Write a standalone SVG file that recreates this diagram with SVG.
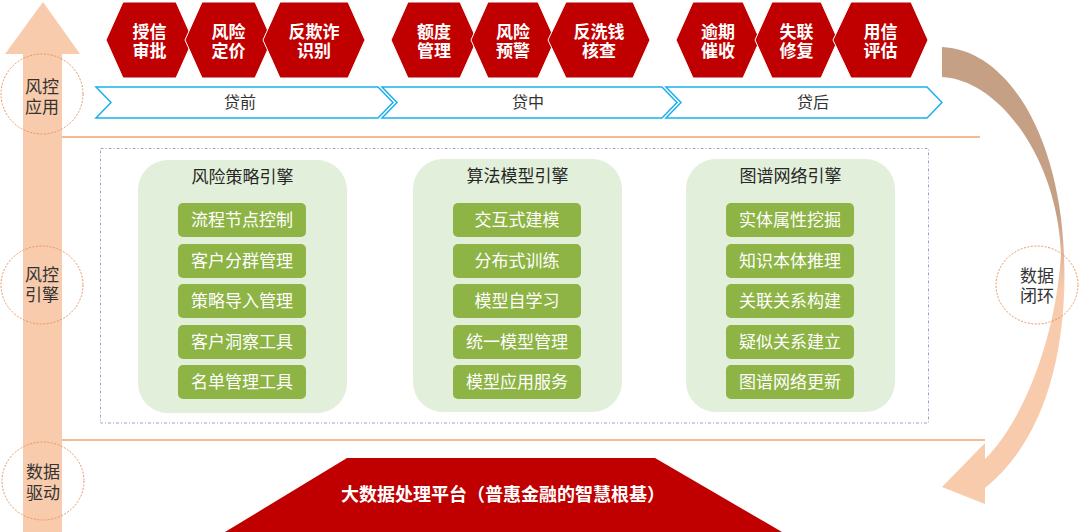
<svg xmlns="http://www.w3.org/2000/svg" width="1080" height="532" viewBox="0 0 1080 532">
<defs>
<linearGradient id="loopGrad" gradientUnits="userSpaceOnUse" x1="0" y1="215" x2="0" y2="290">
<stop offset="0" stop-color="#C6A085"/>
<stop offset="1" stop-color="#F8CBAD"/>
</linearGradient>
<style>
.cn{font-family:"Liberation Sans","Noto Sans CJK SC",sans-serif;}
.hex{fill:#C00000;stroke:#FFFFFF;stroke-width:1;}
.hext{fill:#FFFFFF;font-size:17px;font-weight:bold;text-anchor:middle;}
.chev{fill:#FFFFFF;stroke:#1AB0EE;stroke-width:1.5;}
.chevt{fill:#333333;font-size:16px;text-anchor:middle;}
.ring{fill:none;stroke:#E8965E;stroke-width:1;stroke-dasharray:2 1.5;}
.sidet{fill:#333333;font-size:17px;text-anchor:middle;}
.panel{fill:#E2EFDA;}
.ptitle{fill:#262626;font-size:17px;text-anchor:middle;}
.item{fill:#8DB444;}
.itemt{fill:#FFFFFF;font-size:17px;text-anchor:middle;}
.sep{stroke:#F4A46E;stroke-width:1.6;fill:none;}
</style>
</defs>
<rect width="1080" height="532" fill="#FFFFFF"/>

<g id="connectors">
<polygon id="left-arrow" points="43,2 80,54 62,54 62,532 23,532 23,54 5,54" fill="#F8CBAD"/>
<path id="loop-arrow" d="M 942,47 C 1010,50 1060,140 1064,255 C 1068,350 1045,440 985,488 L 985,504 L 942,487 L 985,443 L 985,459 C 1020,425 1055,345 1061,255 C 1058,160 1000,80 942,77 Z" fill="url(#loopGrad)"/>
</g>

<g id="separators">
<line class="sep" x1="62" y1="137" x2="980" y2="137"/>
<line class="sep" x1="62" y1="440" x2="985" y2="440"/>
<rect x="100.5" y="148.5" width="828" height="274.5" fill="none" stroke="#9AA6CC" stroke-width="1" stroke-dasharray="3 2 1 2"/>
</g>

<g id="side-labels" class="cn">
<g id="label-app">
<ellipse class="ring" cx="42" cy="94" rx="41" ry="40"/>
<text class="sidet" x="42" y="93">风控</text>
<text class="sidet" x="42" y="113">应用</text>
</g>
<g id="label-engine">
<ellipse class="ring" cx="42" cy="285" rx="41" ry="39"/>
<text class="sidet" x="42" y="281">风控</text>
<text class="sidet" x="42" y="301">引擎</text>
</g>
<g id="label-data">
<ellipse class="ring" cx="43" cy="481" rx="41" ry="39"/>
<text class="sidet" x="43" y="478">数据</text>
<text class="sidet" x="43" y="499">驱动</text>
</g>
<g id="label-loop">
<ellipse class="ring" cx="1037" cy="285" rx="41" ry="39"/>
<text class="sidet" x="1037" y="282">数据</text>
<text class="sidet" x="1037" y="302">闭环</text>
</g>
</g>

<g id="hexagons" class="cn">
<g id="hex1"><polygon class="hex" points="106,40 123,2 176,2 193,40 176,78 123,78"/><text class="hext" x="149.5" y="38">授信</text><text class="hext" x="149.5" y="57">审批</text></g>
<g id="hex2"><polygon class="hex" points="185,40 202,2 255,2 272,40 255,78 202,78"/><text class="hext" x="228.5" y="38">风险</text><text class="hext" x="228.5" y="57">定价</text></g>
<g id="hex3"><polygon class="hex" points="263,40 280,2 348,2 365,40 348,78 280,78"/><text class="hext" x="314" y="38">反欺诈</text><text class="hext" x="314" y="57">识别</text></g>
<g id="hex4"><polygon class="hex" points="391,40 408,2 460,2 477,40 460,78 408,78"/><text class="hext" x="434" y="38">额度</text><text class="hext" x="434" y="57">管理</text></g>
<g id="hex5"><polygon class="hex" points="471,40 488,2 538,2 555,40 538,78 488,78"/><text class="hext" x="513" y="38">风险</text><text class="hext" x="513" y="57">预警</text></g>
<g id="hex6"><polygon class="hex" points="548,40 566,2 633,2 650,40 633,78 566,78"/><text class="hext" x="599" y="38">反洗钱</text><text class="hext" x="599" y="57">核查</text></g>
<g id="hex7"><polygon class="hex" points="676,40 693,2 743,2 760,40 743,78 693,78"/><text class="hext" x="718" y="38">逾期</text><text class="hext" x="718" y="57">催收</text></g>
<g id="hex8"><polygon class="hex" points="755,40 772,2 821,2 838,40 821,78 772,78"/><text class="hext" x="796.5" y="38">失联</text><text class="hext" x="796.5" y="57">修复</text></g>
<g id="hex9"><polygon class="hex" points="833,40 851,2 911,2 928,40 911,78 851,78"/><text class="hext" x="880.5" y="38">用信</text><text class="hext" x="880.5" y="57">评估</text></g>
</g>

<g id="stages" class="cn">
<g id="stage-pre"><polygon class="chev" points="96,87 378,87 393,102.5 378,118 96,118 111,102.5"/><text class="chevt" x="240" y="108">贷前</text></g>
<g id="stage-mid"><polygon class="chev" points="382,87 662,87 677,102.5 662,118 382,118 397,102.5"/><text class="chevt" x="528" y="108">贷中</text></g>
<g id="stage-post"><polygon class="chev" points="666,87 927,87 942,102.5 927,118 666,118 681,102.5"/><text class="chevt" x="813" y="108">贷后</text></g>
</g>

<g id="panel-strategy" class="cn">
<rect class="panel" x="138" y="160" width="209" height="253" rx="30"/>
<text class="ptitle" x="242.5" y="183">风险策略引擎</text>
<rect class="item" x="178" y="203" width="128" height="34" rx="5"/><text class="itemt" x="242" y="226">流程节点控制</text>
<rect class="item" x="178" y="244" width="128" height="34" rx="5"/><text class="itemt" x="242" y="267">客户分群管理</text>
<rect class="item" x="178" y="284" width="128" height="34" rx="5"/><text class="itemt" x="242" y="307">策略导入管理</text>
<rect class="item" x="178" y="325" width="128" height="34" rx="5"/><text class="itemt" x="242" y="348">客户洞察工具</text>
<rect class="item" x="178" y="365" width="128" height="34" rx="5"/><text class="itemt" x="242" y="388">名单管理工具</text>
</g>

<g id="panel-model" class="cn">
<rect class="panel" x="413" y="159" width="209" height="253" rx="30"/>
<text class="ptitle" x="517.5" y="182">算法模型引擎</text>
<rect class="item" x="453" y="203" width="128" height="34" rx="5"/><text class="itemt" x="517" y="226">交互式建模</text>
<rect class="item" x="453" y="244" width="128" height="34" rx="5"/><text class="itemt" x="517" y="267">分布式训练</text>
<rect class="item" x="453" y="284" width="128" height="34" rx="5"/><text class="itemt" x="517" y="307">模型自学习</text>
<rect class="item" x="453" y="325" width="128" height="34" rx="5"/><text class="itemt" x="517" y="348">统一模型管理</text>
<rect class="item" x="453" y="365" width="128" height="34" rx="5"/><text class="itemt" x="517" y="388">模型应用服务</text>
</g>

<g id="panel-graph" class="cn">
<rect class="panel" x="686" y="159" width="209" height="253" rx="30"/>
<text class="ptitle" x="790.5" y="182">图谱网络引擎</text>
<rect class="item" x="726" y="203" width="128" height="34" rx="5"/><text class="itemt" x="790" y="226">实体属性挖掘</text>
<rect class="item" x="726" y="244" width="128" height="34" rx="5"/><text class="itemt" x="790" y="267">知识本体推理</text>
<rect class="item" x="726" y="284" width="128" height="34" rx="5"/><text class="itemt" x="790" y="307">关联关系构建</text>
<rect class="item" x="726" y="325" width="128" height="34" rx="5"/><text class="itemt" x="790" y="348">疑似关系建立</text>
<rect class="item" x="726" y="365" width="128" height="34" rx="5"/><text class="itemt" x="790" y="388">图谱网络更新</text>
</g>

<g id="platform" class="cn">
<polygon points="347,458 655,458 782,532 225,532" fill="#C00000"/>
<text x="503" y="501" fill="#FFFFFF" font-size="18" font-weight="bold" text-anchor="middle">大数据处理平台（普惠金融的智慧根基）</text>
</g>
</svg>
